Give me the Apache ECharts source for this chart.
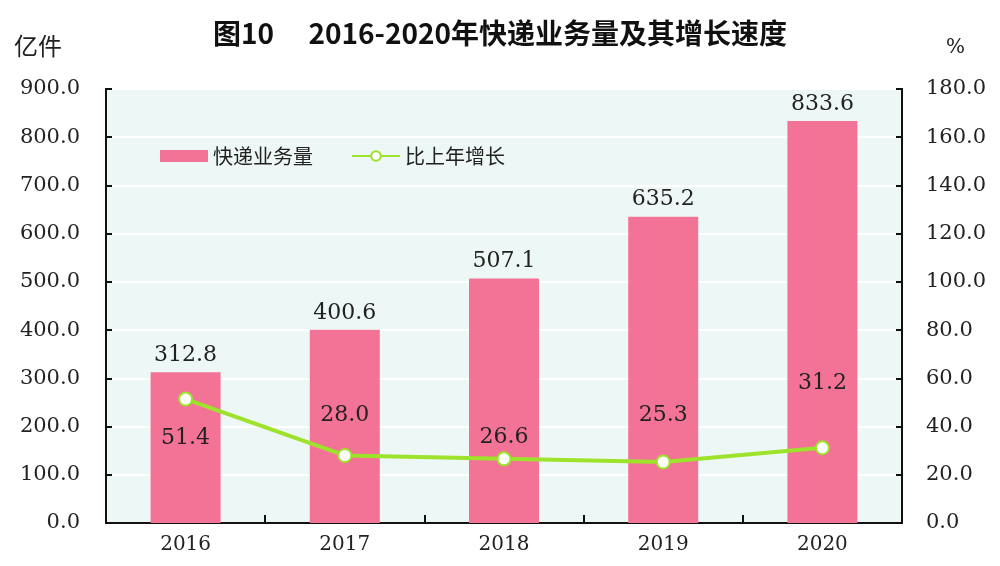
<!DOCTYPE html>
<html><head><meta charset="utf-8">
<script src="https://cdn.jsdelivr.net/npm/echarts@6/dist/echarts.min.js"></script>
<style>html,body{margin:0;padding:0;background:#fff}#c{width:1000px;height:566px}</style>
</head><body><div id="c"></div>
<script>
const categories = ['2016','2017','2018','2019','2020'];
const volume = [312.8, 400.6, 507.1, 635.2, 833.6];
const growth = [51.4, 28.0, 26.6, 25.3, 31.2];
const growthLabelPos = ['bottom','top','top','top','top'];
const growthLabelDist = [21, 22, 3, 28, 46];

const serif = '"DejaVu Serif","Liberation Serif",serif';
const chart = echarts.init(document.getElementById('c'));
chart.setOption({
  backgroundColor:'#fff',
  animation:false,
  title:{text:'图10\u3000 2016-2020年快递业务量及其增长速度',left:'center',top:14,
    textStyle:{fontFamily:'"Noto Sans CJK SC"',fontSize:28,fontWeight:'bold',color:'#111'}},
  graphic:[
    {type:'text',left:14,top:34,style:{text:'亿件',font:'24px "Noto Sans CJK SC"',fill:'#222'}},
    {type:'text',left:946,top:38,style:{text:'%',font:'20px '+serif,fill:'#222'}}
  ],
  legend:{left:155,top:141,itemGap:38,itemWidth:48,itemHeight:12,
    textStyle:{fontFamily:'"Noto Sans CJK SC"',fontSize:20,color:'#222'},
    data:[{name:'快递业务量',icon:'rect'},{name:'比上年增长'}]},
  grid:{left:106,right:98,top:89,bottom:43,show:true,backgroundColor:'#edf7f5',borderColor:'#111',borderWidth:2},
  xAxis:{type:'category',data:categories,
    axisLine:{lineStyle:{color:'#111',width:2}},
    axisTick:{show:true,inside:true,length:8,lineStyle:{color:'#111',width:2}},
    axisLabel:{fontFamily:serif,fontSize:20,color:'#222',margin:12}},
  yAxis:[
    {type:'value',min:0,max:900,interval:100,
     axisLine:{show:true,lineStyle:{color:'#111',width:2}},
     axisTick:{show:true,inside:true,length:6,lineStyle:{color:'#111',width:2}},
     splitLine:{show:true,lineStyle:{color:'#fff',width:2}},
     axisLabel:{fontFamily:serif,fontSize:21,color:'#222',margin:26,formatter:v=>v.toFixed(1)}},
    {type:'value',min:0,max:180,interval:20,
     axisLine:{show:true,lineStyle:{color:'#111',width:2}},
     axisTick:{show:true,inside:true,length:6,lineStyle:{color:'#111',width:2}},
     splitLine:{show:false},
     axisLabel:{fontFamily:serif,fontSize:21,color:'#222',margin:24,formatter:v=>v.toFixed(1)}}
  ],
  series:[
    {name:'快递业务量',type:'bar',data:volume,barWidth:70,
     itemStyle:{color:'#f37396'},
     label:{show:true,position:'top',distance:6,fontFamily:serif,fontSize:22,color:'#222',formatter:p=>p.value.toFixed(1)}},
    {name:'比上年增长',type:'line',yAxisIndex:1,
     data:growth.map((v,i)=>({value:v,label:{position:growthLabelPos[i],distance:growthLabelDist[i]}})),
     lineStyle:{color:'#9de22b',width:4},
     itemStyle:{color:'#fff',borderColor:'#9de22b',borderWidth:2},
     symbol:'circle',symbolSize:13,
     label:{show:true,fontFamily:serif,fontSize:22,color:'#222',formatter:p=>p.value.toFixed(1)}}
  ]
});
</script></body></html>
